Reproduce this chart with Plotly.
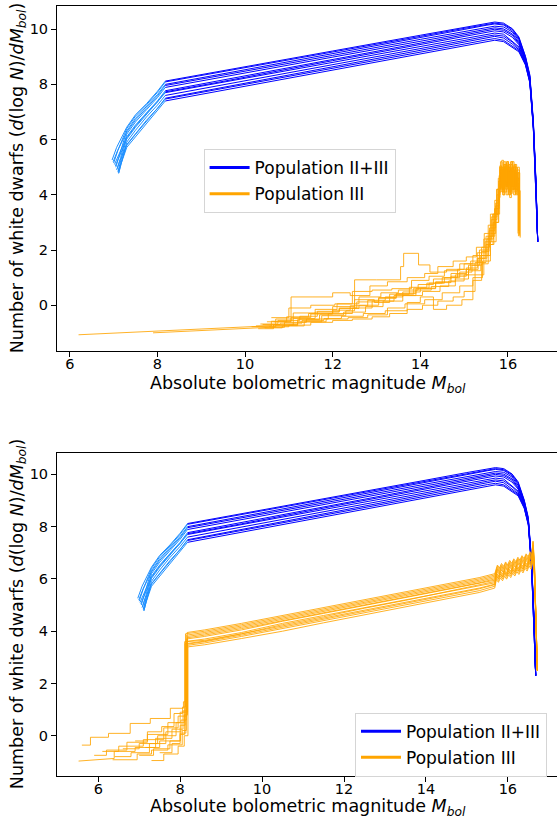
import plotly.graph_objects as go

FONT = "DejaVu Sans"
BLUE = "#0000ff"
LIGHT_BLUE = "#1e90ff"
ORANGE = "rgba(255,165,0,0.85)"
ORANGE_LEG = "#ffa500"

X_TICKS = [6, 8, 10, 12, 14, 16]
Y_TICKS = [0, 2, 4, 6, 8, 10]

# ---------------- Population II+III (same in both panels) ----------------
BLUE_HEAD_X = [
    [6.965, 7.07], [7.0, 7.1], [7.05, 7.14], [6.99, 7.09], [7.08, 7.16], [7.02, 7.12],
    [7.1, 7.17], [7.04, 7.13], [7.115, 7.18], [7.07, 7.15], [7.1, 7.17], [7.115, 7.17],
]
BLUE_HEAD_Y = [
    [5.26, 5.72], [5.15, 5.62], [5.0, 5.45], [5.2, 5.6], [4.95, 5.35], [5.1, 5.48],
    [4.85, 5.25], [5.05, 5.4], [4.78, 5.2], [4.9, 5.25], [4.82, 5.18], [4.78, 5.12],
]
BLUE_LIGHT_GRID_X = [7.3, 7.5, 7.75, 8.0, 8.18]
BLUE_LIGHT_Y = [
    [6.45, 6.90, 7.30, 7.75, 8.12],
    [6.40, 6.85, 7.26, 7.71, 8.09],
    [6.32, 6.77, 7.19, 7.63, 8.00],
    [6.27, 6.71, 7.14, 7.58, 7.96],
    [6.20, 6.64, 7.08, 7.52, 7.89],
    [6.10, 6.53, 6.98, 7.40, 7.77],
    [6.06, 6.49, 6.95, 7.36, 7.73],
    [6.02, 6.45, 6.91, 7.33, 7.70],
    [5.91, 6.34, 6.82, 7.25, 7.60],
    [5.82, 6.22, 6.70, 7.13, 7.50],
    [5.80, 6.19, 6.66, 7.09, 7.47],
    [5.72, 6.10, 6.58, 7.02, 7.40],
]
BLUE_DARK_X = [8.18, 9.5, 12.0, 14.0, 15.0, 15.5, 15.7, 15.9, 16.1, 16.25, 16.4, 16.5, 16.58, 16.64, 16.68]
BLUE_DARK_Y = [
    [8.12, 8.49, 9.21, 9.78, 10.07, 10.21, 10.26, 10.22, 10.02, 9.72, 9.02, 8.35, 6.7, 4.5, 2.3],
    [8.09, 8.46, 9.17, 9.74, 10.03, 10.17, 10.22, 10.18, 10.00, 9.68, 9.00, 8.3, 6.6, 4.4, 2.3],
    [8.00, 8.38, 9.11, 9.70, 9.99, 10.14, 10.19, 10.15, 9.95, 9.64, 8.96, 8.28, 6.65, 4.45, 2.3],
    [7.96, 8.33, 9.05, 9.63, 9.92, 10.06, 10.11, 10.08, 9.90, 9.58, 8.93, 8.25, 6.55, 4.35, 2.3],
    [7.89, 8.27, 8.99, 9.57, 9.86, 10.00, 10.05, 10.01, 9.83, 9.52, 8.90, 8.22, 6.6, 4.4, 2.3],
    [7.77, 8.16, 8.91, 9.50, 9.80, 9.95, 10.00, 9.96, 9.78, 9.48, 8.87, 8.2, 6.5, 4.3, 2.3],
    [7.73, 8.11, 8.86, 9.45, 9.74, 9.89, 9.94, 9.90, 9.71, 9.44, 8.84, 8.18, 6.55, 4.35, 2.3],
    [7.70, 8.08, 8.80, 9.38, 9.67, 9.81, 9.86, 9.82, 9.56, 9.36, 8.81, 8.15, 6.45, 4.3, 2.3],
    [7.60, 7.98, 8.71, 9.30, 9.59, 9.74, 9.79, 9.75, 9.53, 9.31, 8.78, 8.12, 6.5, 4.3, 2.3],
    [7.50, 7.89, 8.64, 9.24, 9.54, 9.69, 9.74, 9.68, 9.46, 9.26, 8.75, 8.1, 6.4, 4.25, 2.3],
    [7.47, 7.85, 8.58, 9.17, 9.46, 9.61, 9.66, 9.60, 9.40, 9.22, 8.72, 8.08, 6.45, 4.25, 2.3],
    [7.40, 7.79, 8.53, 9.11, 9.40, 9.55, 9.60, 9.55, 9.35, 9.18, 8.70, 8.05, 6.4, 4.2, 2.3],
]

# ---------------- Population III, upper panel (step curves) ----------------
TOP_LEAD_X = [[6.2, 10.62], [7.9, 10.55]]
TOP_LEAD_Y = [[-1.07, -0.74], [-1.0, -0.8]]
TOP_X = [
    [10.62, 11.2, 11.75, 12.3, 12.5, 13.0, 13.55, 13.62, 13.96, 14.22, 14.6, 15.0, 15.3, 15.5, 15.65, 15.78, 15.83, 15.87, 15.91, 15.95, 15.99, 16.03, 16.07, 16.11, 16.15, 16.19, 16.23, 16.27],
    [10.55, 10.9, 11.4, 11.9, 12.45, 12.9, 13.4, 13.9, 14.35, 14.8, 15.1, 15.35, 15.55, 15.7, 15.8, 15.85, 15.89, 15.93, 15.97, 16.01, 16.05, 16.09, 16.13, 16.17, 16.21, 16.25],
    [10.15, 10.7, 11.1, 11.6, 12.1, 12.6, 13.1, 13.5, 13.95, 14.3, 14.7, 15.05, 15.3, 15.48, 15.62, 15.75, 15.82, 15.86, 15.9, 15.94, 15.98, 16.02, 16.06, 16.1, 16.14, 16.18, 16.22, 16.26],
    [10.4, 10.8, 11.3, 11.8, 12.2, 12.7, 13.2, 13.7, 14.0, 14.3, 14.6, 14.95, 15.2, 15.4, 15.55, 15.68, 15.79, 15.84, 15.88, 15.92, 15.96, 16.0, 16.04, 16.08, 16.12, 16.16, 16.2, 16.24],
    [10.5, 10.95, 11.45, 12.0, 12.5, 12.95, 13.3, 13.75, 14.15, 14.5, 14.85, 15.15, 15.4, 15.58, 15.72, 15.8, 15.85, 15.89, 15.93, 15.97, 16.01, 16.05, 16.09, 16.13, 16.17, 16.21, 16.25],
    [10.6, 11.0, 11.5, 12.05, 12.45, 12.9, 13.35, 13.8, 14.2, 14.55, 14.9, 15.2, 15.45, 15.62, 15.75, 15.83, 15.87, 15.91, 15.95, 15.99, 16.03, 16.07, 16.11, 16.15, 16.19, 16.23],
    [10.3, 10.65, 11.2, 11.7, 12.25, 12.75, 13.15, 13.6, 14.05, 14.45, 14.8, 15.1, 15.38, 15.55, 15.7, 15.8, 15.84, 15.88, 15.92, 15.96, 16.0, 16.04, 16.08, 16.12, 16.16, 16.2, 16.24],
    [10.7, 11.1, 11.6, 12.15, 12.6, 13.05, 13.45, 13.9, 14.25, 14.65, 15.0, 15.25, 15.5, 15.66, 15.78, 15.82, 15.86, 15.9, 15.94, 15.98, 16.02, 16.06, 16.1, 16.14, 16.18, 16.22, 16.26],
    [10.45, 10.85, 11.35, 11.85, 12.35, 12.8, 13.25, 13.65, 14.1, 14.5, 14.9, 15.2, 15.42, 15.6, 15.73, 15.81, 15.85, 15.89, 15.93, 15.97, 16.01, 16.05, 16.09, 16.13, 16.17, 16.21, 16.25],
    [10.35, 10.75, 11.25, 11.65, 12.15, 12.55, 13.05, 13.45, 13.85, 14.2, 14.55, 14.9, 15.18, 15.4, 15.57, 15.7, 15.79, 15.81, 15.85, 15.89, 15.93, 15.97, 16.01, 16.05, 16.09, 16.13, 16.17, 16.21, 16.26],
    [10.65, 11.05, 11.55, 12.0, 12.4, 12.85, 13.25, 13.7, 14.1, 14.4, 14.75, 15.05, 15.28, 15.46, 15.6, 15.74, 15.82, 15.86, 15.9, 15.94, 15.98, 16.02, 16.06, 16.1, 16.14, 16.18, 16.22, 16.28],
    [10.55, 11.0, 11.5, 12.0, 12.45, 12.9, 13.3, 13.7, 14.05, 14.4, 14.75, 15.0, 15.25, 15.45, 15.6, 15.72, 15.8, 15.845, 15.885, 15.925, 15.965, 16.005, 16.045, 16.085, 16.125, 16.165, 16.205, 16.245],
    [10.25, 10.6, 11.05, 11.5, 12.0, 12.4, 12.8, 13.2, 13.6, 14.0, 14.35, 14.7, 15.05, 15.32, 15.52, 15.67, 15.77, 15.815, 15.855, 15.895, 15.935, 15.975, 16.015, 16.055, 16.095, 16.135, 16.175, 16.215, 16.26],
]
TOP_Y = [
    [-0.74, -0.6, -0.38, -0.2, 0.92, 0.92, 1.40, 1.88, 1.46, 1.2, 1.3, 1.5, 1.9, 2.5, 3.3, 4.6, 5.2, 4.4, 5.0, 4.2, 5.1, 4.6, 5.2, 4.3, 4.9, 4.5, 4.8, 2.5],
    [-0.8, -0.62, -0.5, -0.3, -0.1, 0.15, 0.35, 0.6, 0.85, 1.1, 1.45, 2.0, 2.9, 3.8, 4.7, 4.2, 5.0, 4.4, 5.2, 4.1, 4.8, 4.3, 5.0, 4.6, 4.2, 2.7],
    [-0.78, -0.5, -0.28, -0.15, 0.05, 0.3, 0.45, 0.55, 0.75, 0.95, 1.15, 1.35, 1.7, 2.3, 3.1, 4.0, 4.9, 4.3, 5.1, 4.5, 4.9, 4.0, 5.2, 4.4, 4.7, 4.2, 5.0, 3.0],
    [-0.7, -0.65, -0.55, -0.48, -0.4, -0.3, -0.2, 0.1, 0.3, -0.15, 0.0, 0.2, 0.9, 1.5, 2.2, 3.0, 4.1, 4.8, 4.0, 5.0, 4.3, 4.7, 3.9, 4.9, 4.5, 4.1, 4.6, 2.5],
    [-0.6, -0.42, -0.3, -0.05, 0.2, 0.1, 0.4, 0.65, 0.8, 1.0, 1.3, 1.6, 2.1, 2.8, 3.7, 4.5, 5.0, 4.2, 4.8, 4.4, 5.1, 4.3, 4.7, 4.0, 5.0, 4.4, 2.9],
    [-0.45, -0.1, 0.0, 0.05, 0.5, 0.55, 0.6, 0.9, 1.05, 1.25, 1.5, 1.8, 2.4, 3.2, 4.2, 5.0, 4.5, 5.2, 4.3, 4.8, 4.6, 5.1, 4.2, 4.8, 4.4, 2.6],
    [-0.85, -0.7, -0.52, -0.35, -0.25, -0.05, 0.15, 0.35, 0.5, 0.7, 0.95, 1.25, 1.8, 2.5, 3.5, 4.4, 4.9, 4.1, 4.7, 4.0, 5.0, 4.5, 4.8, 4.2, 5.1, 4.3, 2.7],
    [-0.72, -0.48, -0.25, -0.12, 0.0, 0.25, 0.42, 0.55, 0.68, 0.88, 1.1, 1.55, 2.2, 3.0, 3.9, 4.7, 4.1, 5.0, 4.4, 4.9, 4.2, 4.8, 4.5, 5.1, 4.3, 4.6, 3.2],
    [-0.82, -0.75, -0.6, -0.5, -0.45, -0.35, -0.1, 0.05, 0.2, 0.45, 0.7, 1.0, 1.6, 2.3, 3.3, 4.3, 4.8, 4.0, 4.6, 4.3, 5.0, 4.1, 4.9, 4.4, 4.7, 4.0, 2.8],
    [-0.68, -0.55, -0.4, -0.22, -0.1, 0.12, 0.28, 0.4, 0.62, 0.8, 1.0, 1.2, 1.45, 1.95, 2.7, 3.5, 4.5, 5.0, 4.3, 4.9, 4.1, 5.15, 4.4, 4.95, 4.2, 4.7, 4.0, 4.9, 2.6],
    [-0.6, 0.3, 0.3, 0.45, 0.35, 0.7, 0.85, 1.0, 1.15, 1.4, 1.6, 1.75, 2.1, 2.6, 3.3, 4.2, 4.7, 5.25, 4.45, 5.05, 4.3, 4.85, 4.05, 5.2, 4.35, 4.75, 4.15, 2.45],
    [-0.78, -0.72, -0.62, -0.55, -0.5, -0.42, -0.3, -0.15, 0.0, 0.15, 0.3, 0.5, 1.1, 1.8, 2.6, 3.6, 4.4, 4.9, 4.2, 5.1, 4.35, 4.85, 4.15, 5.0, 4.5, 4.05, 4.8, 2.7],
    [-0.75, -0.58, -0.45, -0.32, -0.18, -0.02, 0.18, 0.3, 0.48, 0.62, 0.82, 1.05, 1.3, 1.7, 2.4, 3.3, 4.2, 5.05, 4.25, 4.95, 4.45, 5.2, 4.0, 4.85, 4.3, 5.05, 4.2, 4.6, 2.55],
]

# ---------------- Population III, lower panel ----------------
BOT_LEFT_X = [
    [5.52, 6.39, 6.39, 6.9, 6.9, 7.5, 7.5, 8.0, 8.0, 8.14, 8.14],
    [5.6, 5.81, 5.81, 6.25, 6.25, 6.78, 6.78, 7.27, 7.27, 7.76, 7.76, 8.08, 8.08, 8.17, 8.17],
    [6.35, 6.95, 6.95, 7.3, 7.3, 7.7, 7.7, 8.05, 8.05, 8.15, 8.15],
    [6.6, 7.0, 7.0, 7.45, 7.45, 7.9, 7.9, 8.1, 8.1, 8.18, 8.18],
    [7.0, 7.35, 7.35, 7.75, 7.75, 8.0, 8.0, 8.12, 8.12],
    [6.1, 6.5, 6.5, 7.1, 7.1, 7.6, 7.6, 7.95, 7.95, 8.16, 8.16],
    [7.3, 7.6, 7.6, 7.95, 7.95, 8.1, 8.1, 8.19, 8.19],
    [6.9, 7.2, 7.2, 7.55, 7.55, 7.85, 7.85, 8.06, 8.06, 8.13, 8.13],
    [7.5, 7.8, 7.8, 8.0, 8.0, 8.11, 8.11],
    [6.4, 6.8, 6.8, 7.25, 7.25, 7.65, 7.65, 8.02, 8.02, 8.15, 8.15],
    [7.15, 7.4, 7.4, 7.8, 7.8, 8.07, 8.07, 8.16, 8.16],
    [5.9, 6.2, 6.2, 6.7, 6.7, 7.2, 7.2, 7.7, 7.7, 8.0, 8.0, 8.18, 8.18],
]
BOT_LEFT_Y = [
    [-0.97, -0.87, -0.6, -0.6, -0.45, -0.45, -0.2, -0.2, 0.1, 0.1, 3.45],
    [-0.36, -0.36, -0.06, -0.06, 0.09, 0.09, 0.47, 0.47, 0.66, 0.66, 1.05, 1.05, 1.3, 1.3, 3.95],
    [-0.92, -0.92, -0.7, -0.7, -0.55, -0.55, -0.35, -0.35, 0.2, 0.2, 3.6],
    [-0.5, -0.5, -0.3, -0.3, 0.0, 0.0, 0.5, 0.5, 0.8, 0.8, 3.75],
    [-0.75, -0.75, -0.5, -0.5, -0.2, -0.2, 0.4, 0.4, 3.52],
    [-0.6, -0.6, -0.4, -0.4, -0.15, -0.15, 0.3, 0.3, 0.75, 0.75, 3.85],
    [-0.95, -0.95, -0.7, -0.7, -0.4, -0.4, 0.0, 0.0, 3.4],
    [-0.2, -0.2, 0.15, 0.15, 0.35, 0.35, 0.85, 0.85, 1.1, 1.1, 3.9],
    [-0.65, -0.65, -0.3, -0.3, 0.05, 0.05, 3.6],
    [-0.8, -0.8, -0.65, -0.65, -0.3, -0.3, 0.15, 0.15, 0.6, 0.6, 3.7],
    [-0.45, -0.45, -0.1, -0.1, 0.25, 0.25, 0.95, 0.95, 3.5],
    [-0.75, -0.75, -0.55, -0.55, -0.25, -0.25, 0.05, 0.05, 0.5, 0.5, 0.9, 0.9, 3.8],
]
BOT_LINEAR_X = [8.6, 9.5, 10.5, 11.5, 12.5, 13.5, 14.5, 15.3, 15.68]
BOT_LINEAR_Y = [
    [3.55, 3.8, 4.1, 4.4, 4.72, 5.0, 5.3, 5.55, 5.72],
    [4.05, 4.3, 4.6, 4.9, 5.2, 5.5, 5.8, 6.05, 6.2],
    [3.65, 3.9, 4.2, 4.5, 4.8, 5.1, 5.4, 5.65, 5.8],
    [3.85, 4.1, 4.4, 4.7, 5.0, 5.3, 5.6, 5.85, 6.0],
    [3.62, 3.9, 4.25, 4.55, 4.88, 5.18, 5.5, 5.75, 5.9],
    [3.95, 4.2, 4.5, 4.82, 5.1, 5.42, 5.72, 5.95, 6.1],
    [3.48, 3.72, 4.0, 4.32, 4.62, 4.93, 5.22, 5.48, 5.65],
    [4.0, 4.25, 4.55, 4.85, 5.15, 5.45, 5.75, 6.0, 6.15],
    [3.7, 3.95, 4.3, 4.6, 4.9, 5.2, 5.5, 5.72, 5.85],
    [3.8, 4.05, 4.38, 4.68, 4.98, 5.28, 5.58, 5.82, 5.95],
    [3.6, 3.85, 4.15, 4.46, 4.77, 5.06, 5.37, 5.62, 5.78],
    [3.9, 4.15, 4.46, 4.76, 5.06, 5.36, 5.66, 5.9, 6.05],
]
# saw-tooth part near the peak: two interleaved magnitude grids
BOT_ZIG_X_A = [15.72, 15.77, 15.82, 15.87, 15.92, 15.97, 16.02, 16.07, 16.12, 16.17, 16.22, 16.27, 16.32, 16.37, 16.42, 16.47, 16.52, 16.57, 16.61]
BOT_ZIG_X_B = [15.745, 15.795, 15.845, 15.895, 15.945, 15.995, 16.045, 16.095, 16.145, 16.195, 16.245, 16.295, 16.345, 16.395, 16.445, 16.495, 16.545, 16.585, 16.615]
BOT_ZIG_Y = [
    [6.05, 5.94, 6.11, 6.00, 6.17, 6.06, 6.23, 6.12, 6.29, 6.18, 6.35, 6.24, 6.41, 6.30, 6.48, 6.37, 6.56, 6.44, 6.82],
    [6.53, 6.42, 6.59, 6.48, 6.65, 6.54, 6.71, 6.60, 6.77, 6.66, 6.83, 6.72, 6.89, 6.78, 6.96, 6.85, 7.04, 6.92, 7.45],
    [6.13, 6.02, 6.19, 6.08, 6.25, 6.14, 6.31, 6.20, 6.37, 6.26, 6.43, 6.32, 6.49, 6.38, 6.56, 6.45, 6.64, 6.52, 6.90],
    [6.33, 6.22, 6.39, 6.28, 6.45, 6.34, 6.51, 6.40, 6.57, 6.46, 6.63, 6.52, 6.69, 6.58, 6.76, 6.65, 6.84, 6.72, 7.15],
    [6.23, 6.12, 6.29, 6.18, 6.35, 6.24, 6.41, 6.30, 6.47, 6.36, 6.53, 6.42, 6.59, 6.48, 6.66, 6.55, 6.74, 6.62, 7.00],
    [6.43, 6.32, 6.49, 6.38, 6.55, 6.44, 6.61, 6.50, 6.67, 6.56, 6.73, 6.62, 6.79, 6.68, 6.86, 6.75, 6.94, 6.82, 7.30],
    [5.98, 5.87, 6.04, 5.93, 6.10, 5.99, 6.16, 6.05, 6.22, 6.11, 6.28, 6.17, 6.34, 6.23, 6.41, 6.30, 6.49, 6.37, 6.75],
    [6.48, 6.37, 6.54, 6.43, 6.60, 6.49, 6.66, 6.55, 6.72, 6.61, 6.78, 6.67, 6.84, 6.73, 6.91, 6.80, 6.99, 6.87, 7.40],
    [6.18, 6.07, 6.24, 6.13, 6.30, 6.19, 6.36, 6.25, 6.42, 6.31, 6.48, 6.37, 6.54, 6.43, 6.61, 6.50, 6.69, 6.57, 6.95],
    [6.28, 6.17, 6.34, 6.23, 6.40, 6.29, 6.46, 6.35, 6.52, 6.41, 6.58, 6.47, 6.64, 6.53, 6.71, 6.60, 6.79, 6.67, 7.10],
    [6.11, 6.00, 6.17, 6.06, 6.23, 6.12, 6.29, 6.18, 6.35, 6.24, 6.41, 6.30, 6.47, 6.36, 6.54, 6.43, 6.62, 6.50, 6.88],
    [6.38, 6.27, 6.44, 6.33, 6.50, 6.39, 6.56, 6.45, 6.62, 6.51, 6.68, 6.57, 6.74, 6.63, 6.81, 6.70, 6.89, 6.77, 7.20],
]
BOT_TAIL_X = [16.65, 16.69, 16.72]
BOT_TAIL_Y = [
    [6.1, 4.3, 2.5], [6.6, 4.4, 2.5], [6.2, 4.2, 2.5], [6.4, 4.3, 2.5], [6.3, 4.35, 2.5], [6.5, 4.4, 2.5],
    [6.0, 4.2, 2.5], [6.55, 4.45, 2.5], [6.25, 4.3, 2.5], [6.35, 4.3, 2.5], [6.15, 4.25, 2.5], [6.45, 4.4, 2.5],
]

LEGEND_NAMES = ["Population II+III", "Population III"]

fig = go.Figure()


def add_blue(xa, ya):
    for i in range(len(BLUE_DARK_Y)):
        fig.add_trace(go.Scatter(
            x=BLUE_HEAD_X[i] + BLUE_LIGHT_GRID_X, y=BLUE_HEAD_Y[i] + BLUE_LIGHT_Y[i],
            mode="lines", line=dict(color=LIGHT_BLUE, width=1),
            xaxis=xa, yaxis=ya, showlegend=False, hoverinfo="skip"))
        fig.add_trace(go.Scatter(
            x=BLUE_DARK_X, y=BLUE_DARK_Y[i],
            mode="lines", line=dict(color=BLUE, width=1),
            xaxis=xa, yaxis=ya, showlegend=False, hoverinfo="skip"))


# upper panel
add_blue("x", "y")
for lx, ly in zip(TOP_LEAD_X, TOP_LEAD_Y):
    fig.add_trace(go.Scatter(x=lx, y=ly, mode="lines", line=dict(color=ORANGE, width=1),
                             xaxis="x", yaxis="y", showlegend=False, hoverinfo="skip"))
for tx, ty in zip(TOP_X, TOP_Y):
    fig.add_trace(go.Scatter(x=tx, y=ty, mode="lines", line=dict(color=ORANGE, width=1, shape="hv"),
                             xaxis="x", yaxis="y", showlegend=False, hoverinfo="skip"))

# lower panel
add_blue("x2", "y2")
for i in range(len(BOT_LEFT_X)):
    zig_x = BOT_ZIG_X_A if i % 2 == 0 else BOT_ZIG_X_B
    fig.add_trace(go.Scatter(
        x=BOT_LEFT_X[i] + BOT_LINEAR_X + zig_x + BOT_TAIL_X,
        y=BOT_LEFT_Y[i] + BOT_LINEAR_Y[i] + BOT_ZIG_Y[i] + BOT_TAIL_Y[i],
        mode="lines", line=dict(color=ORANGE, width=1),
        xaxis="x2", yaxis="y2", showlegend=False, hoverinfo="skip"))

# legend entries
for leg, xa, ya in [("legend", "x", "y"), ("legend2", "x2", "y2")]:
    for name, col in zip(LEGEND_NAMES, [BLUE, ORANGE_LEG]):
        fig.add_trace(go.Scatter(x=[None], y=[None], mode="lines", name=name,
                                 line=dict(color=col, width=3), xaxis=xa, yaxis=ya,
                                 legend=leg, legendgroup=leg + name))

W, H = 557, 819
ML = 57
PW = W - ML


def px_x(p):
    return (p - ML) / PW


axis_common = dict(showline=True, linecolor="black", linewidth=1, ticks="outside", ticklen=5,
                   tickwidth=1, tickcolor="black", showgrid=False, zeroline=False,
                   tickfont=dict(family=FONT, size=14.5, color="black"))
legend_common = dict(xanchor="left", yanchor="top", bgcolor="white", bordercolor="#d5d5d5",
                     borderwidth=1, font=dict(family=FONT, size=17, color="black"),
                     tracegroupgap=1, itemwidth=40)

fig.update_layout(
    width=W, height=H,
    margin=dict(l=ML, r=0, t=0, b=0),
    paper_bgcolor="white", plot_bgcolor="white",
    font=dict(family=FONT, color="black"),
    xaxis=dict(axis_common, domain=[0, 1], range=[5.708, 17.12], tickvals=X_TICKS, anchor="y",
               mirror=True, ticklabelstandoff=-5),
    yaxis=dict(axis_common, domain=[1 - 350.5 / H, 1 - 6 / H], range=[-1.64, 10.84], tickvals=Y_TICKS, anchor="x"),
    xaxis2=dict(axis_common, domain=[0, 1], range=[4.993, 17.2], tickvals=X_TICKS, anchor="y2",
                mirror=True, ticklabelstandoff=-5),
    yaxis2=dict(axis_common, domain=[1 - 775.7 / H, 1 - 452.7 / H], range=[-1.53, 10.83], tickvals=Y_TICKS, anchor="x2"),
    legend=dict(legend_common, x=px_x(203.6), y=1 - 149 / H),
    legend2=dict(legend_common, x=px_x(355), y=1 - 712.7 / H),
)

XT = "Absolute bolometric magnitude <i>M</i><sub><i>bol</i></sub>"
YT = "Number of white dwarfs (<i>d</i>(log <i>N</i>)/<i>dM</i><sub><i>bol</i></sub>)"
ann = []
for yc in [384, 807.5]:
    ann.append(dict(text=XT, x=px_x(307.8), y=1 - yc / H, xref="paper", yref="paper",
                    xanchor="center", yanchor="middle", showarrow=False,
                    font=dict(family=FONT, size=17.5, color="black")))
for yc in [178.25, 614.2]:
    ann.append(dict(text=YT, x=px_x(18), y=1 - yc / H, xref="paper", yref="paper",
                    xanchor="center", yanchor="middle", showarrow=False, textangle=-90,
                    font=dict(family=FONT, size=17.5, color="black")))
fig.update_layout(annotations=ann)

fig.write_html("out.html", config={"displayModeBar": False},
               post_script="document.body.style.margin='0';document.body.style.overflow='hidden';")
